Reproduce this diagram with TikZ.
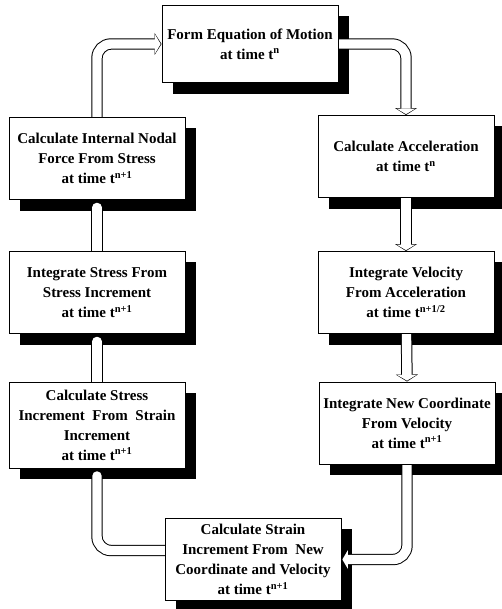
\documentclass[tikz,border=0pt]{standalone}
\usepackage{fontspec}
\setmainfont{Liberation Serif}
\usetikzlibrary{arrows.meta}

\pgfdeclarelayer{sombra}
\pgfdeclarelayer{caixas}
\pgfsetlayers{sombra,main,caixas}

\newcommand{\caixafont}{\fontsize{15}{20}\selectfont\bfseries}

\tikzset{
  caixa/.style={draw, fill=white, line width=0.9pt, minimum width=176pt,
    minimum height=82pt, align=center, inner sep=1pt, font=\caixafont},
  tubo/.style={draw=black, line width=11.4pt, rounded corners=14pt},
  miolo/.style={draw=white, line width=9.4pt, rounded corners=14pt},
  ponta/.style={-{Triangle[width=22pt,length=7pt,line width=0pt]}},
  pontab/.style={-{Triangle[width=19pt,length=5.6pt,line width=0pt]}, shorten >=0.9pt},
}

\begin{document}
\begin{tikzpicture}[x=1pt, y=-1pt]
    \useasboundingbox (0,0) rectangle (502,609);

    % Caixas
    \begin{pgfonlayer}{caixas}
    \node[caixa, minimum height=77pt] (motion) at (250,44)
        {Form Equation of Motion\\at time t\textsuperscript{n}};
    \node[caixa] (accel) at (406,156.5)
        {Calculate Acceleration\\at time t\textsuperscript{n}};
    \node[caixa] (velocity) at (406,292.5)
        {Integrate Velocity\\From Acceleration\\at time t\textsuperscript{n+1/2}};
    \node[caixa] (coord) at (407,423)
        {Integrate New Coordinate\\From Velocity\\at time t\textsuperscript{n+1}};
    \node[caixa] (strain) at (253,559.5)
        {Calculate Strain\\Increment From\ \ New\\Coordinate and Velocity\\at time t\textsuperscript{n+1}};
    \node[caixa, minimum height=86pt] (stressinc) at (97,425)
        {Calculate Stress\\Increment\ \ From\ \ Strain\\Increment\\at time t\textsuperscript{n+1}};
    \node[caixa] (stress) at (97,292.5)
        {Integrate Stress From\\Stress Increment\\at time t\textsuperscript{n+1}};
    \node[caixa] (force) at (97,158.5)
        {Calculate Internal Nodal\\Force From Stress\\at time t\textsuperscript{n+1}};
    \end{pgfonlayer}

    % Sombras
    \begin{pgfonlayer}{sombra}
    \foreach \b in {motion,accel,velocity,coord,strain,stressinc,stress,force}
        \fill ([shift={(11,11)}]\b.north west) rectangle ([shift={(11,11)}]\b.south east);
    \end{pgfonlayer}

    % Setas com ponta (lado direito)
    \draw[tubo, ponta] (motion.center) -| (accel.north);
    \draw[miolo, pontab] (motion.center) -| (accel.north);
    \foreach \a/\b in {accel/velocity, velocity/coord} {
        \draw[tubo, ponta] (\a.center) -- (\b.north);
        \draw[miolo, pontab] (\a.center) -- (\b.north);
    }
    \draw[tubo, ponta] (coord.center) |- (strain.east);
    \draw[miolo, pontab] (coord.center) |- (strain.east);

    % Setas arredondadas (lado esquerdo)
    \draw[tubo, line cap=round] ([yshift=9pt]strain.center) -| ([yshift=-7.5pt]stressinc.south);
    \draw[miolo, line cap=round] ([yshift=9pt]strain.center) -| ([yshift=-7.5pt]stressinc.south);
    \foreach \a/\b in {stressinc/stress, stress/force} {
        \draw[tubo, line cap=round] (\a.center) -- ([yshift=-7.5pt]\b.south);
        \draw[miolo, line cap=round] (\a.center) -- ([yshift=-7.5pt]\b.south);
    }
    \draw[tubo, ponta] (force.center) |- (motion.west);
    \draw[miolo, pontab] (force.center) |- (motion.west);
\end{tikzpicture}
\end{document}
